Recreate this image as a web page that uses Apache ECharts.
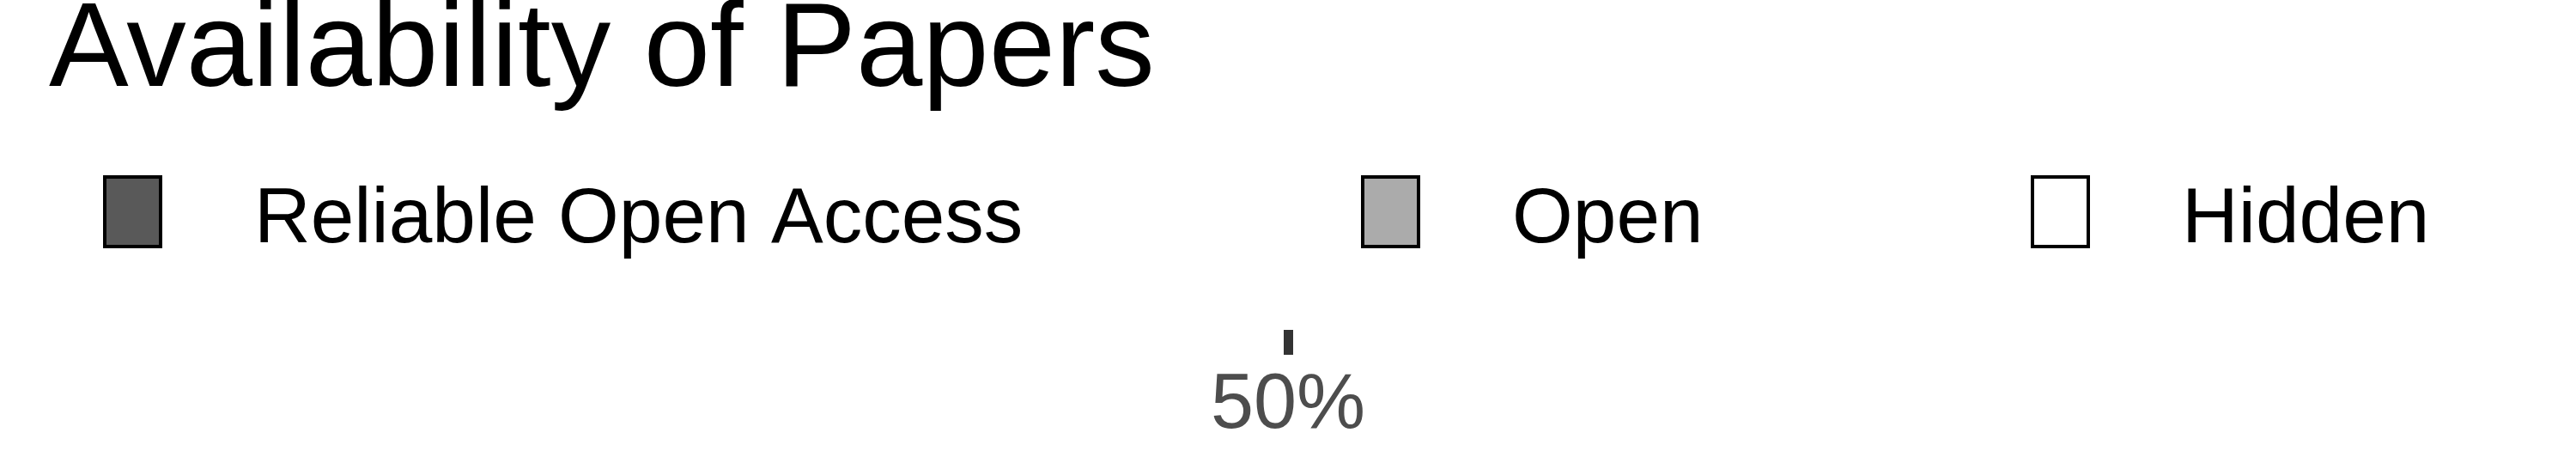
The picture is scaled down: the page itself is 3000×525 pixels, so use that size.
<!DOCTYPE html>
<html>
<head>
<meta charset="utf-8">
<script src="https://cdn.jsdelivr.net/npm/echarts@6/dist/echarts.min.js"></script>
<style>html,body{margin:0;padding:0;background:#fff}#c{width:3000px;height:525px}</style>
</head>
<body>
<div id="c"></div>
<script>
const categories = ['Papers'];
const seriesNames = ['Reliable Open Access', 'Open', 'Hidden'];
const reliableOpenAccess = [32];
const openValues = [33];
const hiddenValues = [35];
const tickValues = [50];
const fills = ['#595959', '#ababab', '#ffffff'];

const FONT = '"Liberation Sans", Arial, sans-serif';
const chart = echarts.init(document.getElementById('c'), null, {renderer: 'canvas'});

const legendLefts = [120, 1585, 2365];
const legends = seriesNames.map((n, i) => ({
  data: [n],
  left: legendLefts[i],
  top: 204,
  padding: 0,
  itemWidth: 65,
  itemHeight: 81,
  icon: 'rect',
  selectedMode: false,
  itemStyle: {color: fills[i], opacity: 1, borderColor: '#000', borderWidth: 4},
  formatter: '{t|{name}}',
  textStyle: {
    fontFamily: FONT, fontSize: 91, color: '#000',
    rich: {t: {fontFamily: FONT, fontSize: 91, color: '#000', padding: [20, 0, 0, 104]}}
  }
}));

const dataSets = [reliableOpenAccess, openValues, hiddenValues];

chart.setOption({
  animation: false,
  backgroundColor: '#fff',
  title: {
    text: 'Availability of Papers',
    left: 57, top: -8, padding: 0,
    textStyle: {fontFamily: FONT, fontSize: 139, fontWeight: 'normal', color: '#000'}
  },
  legend: legends,
  grid: {left: 57, right: 57, top: 383.98, height: 0.02, containLabel: false},
  xAxis: {
    type: 'value', min: 0, max: 100,
    axisLine: {show: false},
    splitLine: {show: false},
    axisTick: {show: true, customValues: tickValues, length: 29, lineStyle: {color: '#333', width: 11}},
    axisLabel: {customValues: tickValues, formatter: '{value}%', fontFamily: FONT, fontSize: 90, color: '#4d4d4d', margin: 44}
  },
  yAxis: {
    type: 'category', data: categories,
    axisLine: {show: false}, axisTick: {show: false}, axisLabel: {show: false}, splitLine: {show: false}
  },
  series: seriesNames.map((n, i) => ({
    name: n, type: 'bar', stack: 'total', data: dataSets[i],
    barWidth: '100%',
    itemStyle: {color: fills[i], opacity: 0}
  }))
});
</script>
</body>
</html>
